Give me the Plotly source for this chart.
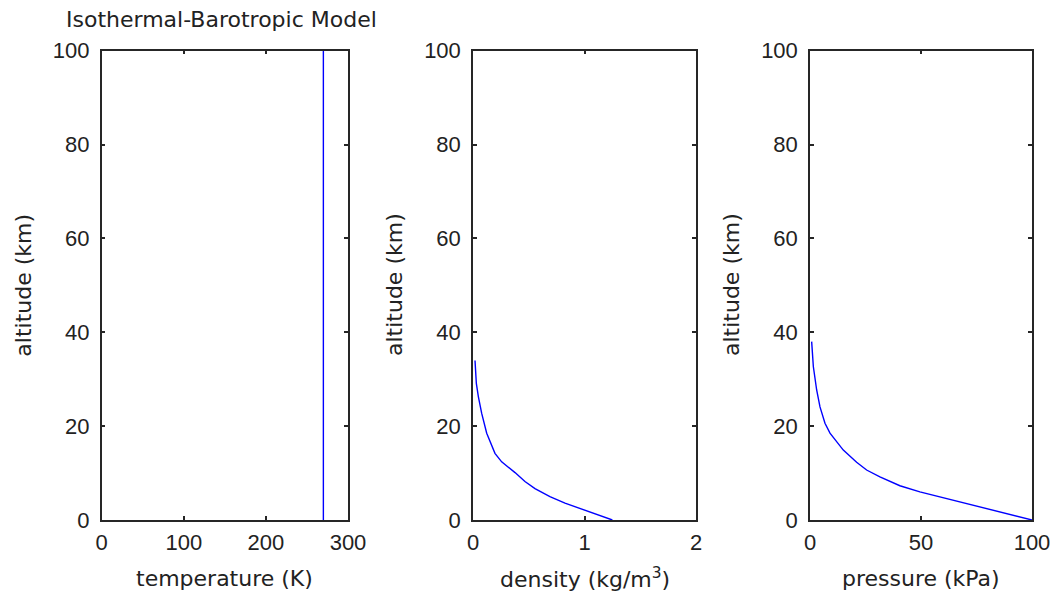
import plotly.graph_objects as go

# ---- data ----
temp_alt = [0, 100]
temperature = [270, 270]

dens_alt = [0, 2.1, 3.6, 5.0, 6.7, 8.2, 10.1, 12.4, 14.2, 18.5, 22.7, 26.3, 29.1, 34]
density = [1.25, 0.99, 0.825, 0.69, 0.556, 0.466, 0.377, 0.257, 0.197, 0.123, 0.078, 0.048, 0.03, 0.018]

pres_alt = [0, 2.1, 3.4, 4.5, 6.0, 7.3, 9.2, 10.65, 12.3, 14.9, 16.7, 18.5, 20.6, 24.1, 27.7, 32.7, 38]
pressure = [100, 82.6, 70.6, 61.6, 49.5, 40.5, 31.5, 25.5, 21.0, 15.0, 12.0, 9.0, 6.75, 4.5, 3.0, 1.5, 0.75]

alt_ticks = [0, 20, 40, 60, 80, 100]
x_ticks = [[0, 100, 200, 300], [0, 1, 2], [0, 50, 100]]
x_ranges = [[0, 300], [0, 2], [0, 100]]
x_labels = ["temperature (K)", "density (kg/m<sup>3</sup>)", "pressure (kPa)"]
y_label = "altitude (km)"
title = "Isothermal-Barotropic Model"

W, H = 1053, 599
LBL_FONT = dict(family="DejaVu Sans, Liberation Sans, Arial", size=22, color="#222")
TICK_FONT = dict(family="Liberation Sans, Arial", size=22, color="#222")

fig = go.Figure()
series = [(temperature, temp_alt), (density, dens_alt), (pressure, pres_alt)]

# panel boxes in pixels (left, right)
px_x = [(101.7, 348), (473, 696), (810, 1032)]
top_px, bot_px = 50.7, 520

for i, ((xv, yv), (l, r)) in enumerate(zip(series, px_x)):
    n = "" if i == 0 else str(i + 1)
    fig.add_trace(go.Scatter(x=xv, y=yv, mode="lines",
                             line=dict(color="#0000ff", width=1.4),
                             xaxis="x" + n, yaxis="y" + n, showlegend=False))
    common = dict(showline=True, linecolor="#262626", linewidth=1.5, mirror="allticks",
                  ticks="inside", ticklen=4, tickcolor="#262626", tickwidth=1.5,
                  showgrid=False, zeroline=False, tickfont=TICK_FONT, automargin=False)
    fig.update_layout(**{
        "xaxis" + n: dict(domain=[l / W, r / W], range=x_ranges[i], tickvals=x_ticks[i],
                          anchor="y" + n, ticklabelstandoff=2, **common),
        "yaxis" + n: dict(domain=[(H - bot_px) / H, (H - top_px) / H], range=[0, 100],
                          tickvals=alt_ticks, anchor="x" + n, ticklabelstandoff=6, **common),
    })
    cx = (l + r) / 2 / W
    fig.add_annotation(text=x_labels[i], xref="paper", yref="paper", x=cx, y=(H - 578) / H,
                       xanchor="center", yanchor="middle", showarrow=False, font=LBL_FONT)
    fig.add_annotation(text=y_label, xref="paper", yref="paper", x=(l - 79) / W, y=(H - 285) / H,
                       xanchor="center", yanchor="middle", textangle=-90, showarrow=False,
                       font=LBL_FONT)

fig.add_annotation(text=title, xref="paper", yref="paper", x=221 / W, y=(H - 20) / H,
                   xanchor="center", yanchor="middle", showarrow=False, font=LBL_FONT)

fig.update_layout(width=W, height=H, autosize=False,
                  margin=dict(l=0, r=0, t=0, b=0, pad=0, autoexpand=False),
                  paper_bgcolor="white", plot_bgcolor="white")
fig.write_html("out.html", config={"displayModeBar": False, "responsive": False},
               post_script="document.body.style.margin='0';document.body.style.overflow='hidden';")
